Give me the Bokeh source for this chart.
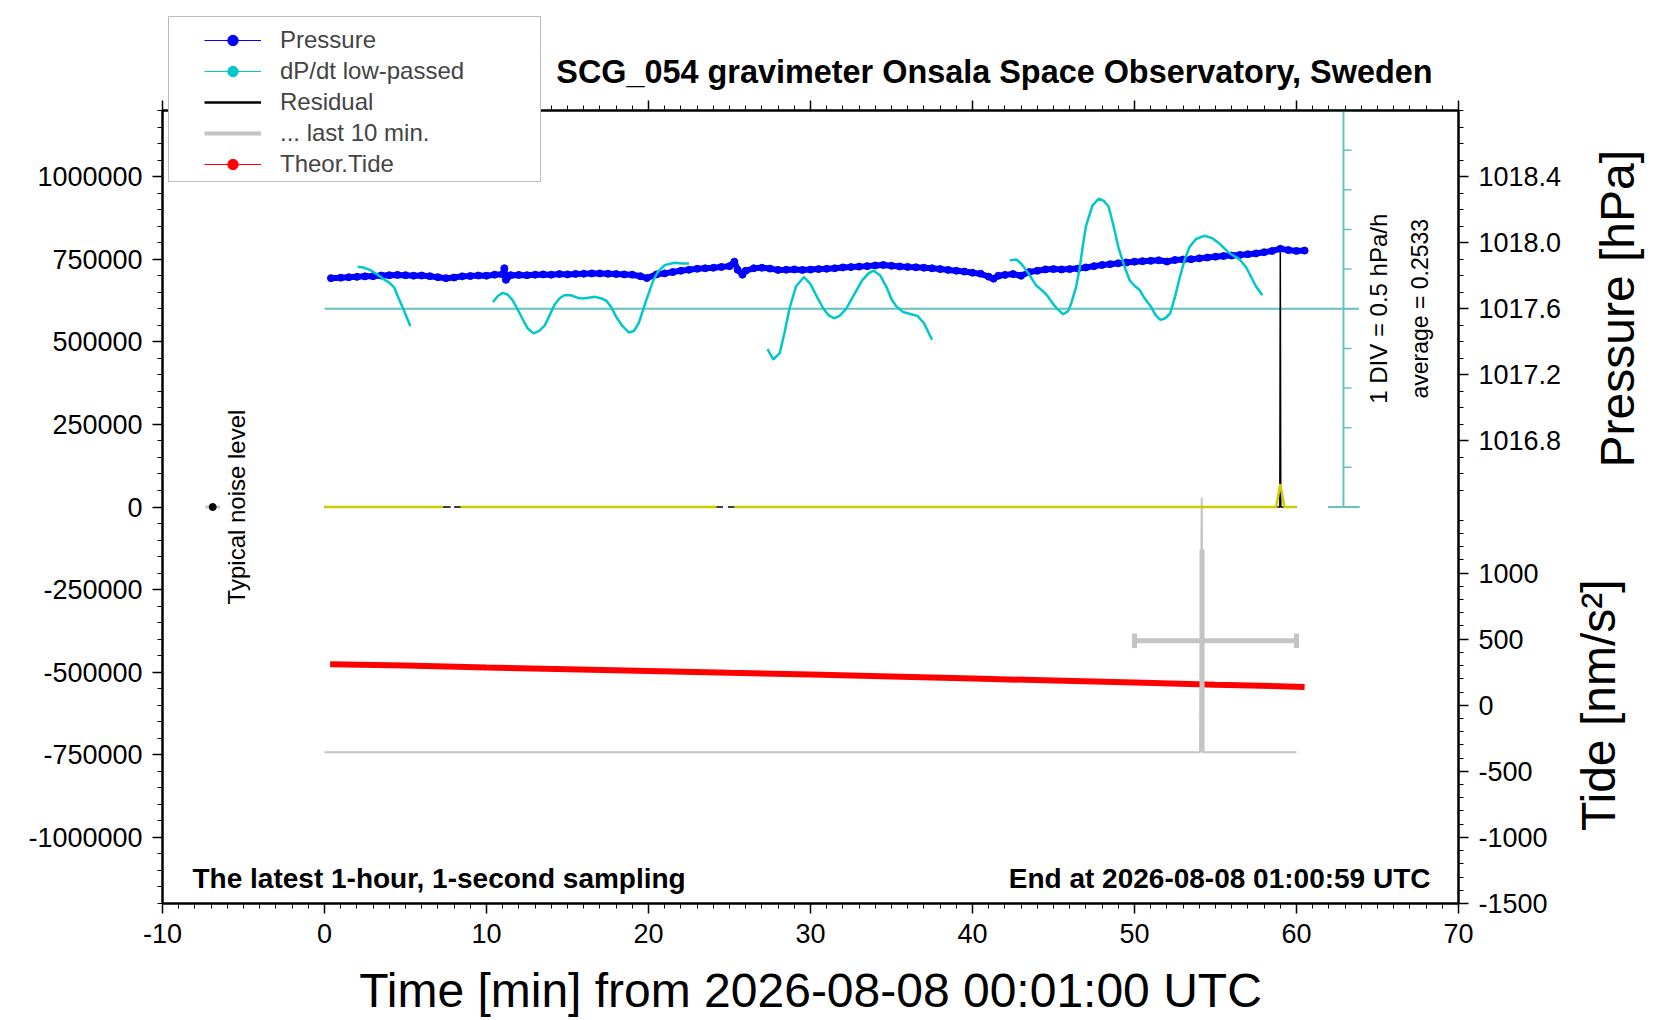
import math
from bokeh.plotting import figure
from bokeh.layouts import column
from bokeh.models import (Range1d, LinearAxis, FixedTicker, NumeralTickFormatter,
                          Legend, LegendItem, Label)
from bokeh.embed import file_html
from bokeh.resources import INLINE

FONT = "Liberation Sans"
nan = float("nan")

# --- pressure [hPa] (minutes from start)
pres_t = [0.4, 1.0, 1.5, 2.0, 2.5, 3.0, 3.5, 4.0, 4.5, 5.0,
          5.5, 6.0, 6.5, 7.0, 7.5, 8.0, 8.5, 9.0, 9.5, 10.0,
          10.5, 11.0, 11.1, 11.2, 11.5, 12.0, 12.5, 13.0, 13.5, 14.0,
          14.5, 15.0, 15.5, 16.0, 16.5, 17.0, 17.5, 18.0, 18.5, 19.0,
          19.5, 19.9, 20.5, 21.0, 21.5, 22.0, 22.5, 23.0, 23.5, 24.0,
          24.5, 25.0, 25.3, 25.5, 25.8, 26.0, 26.5, 27.0, 27.5, 28.0,
          28.5, 29.0, 29.5, 30.0, 30.5, 31.0, 31.5, 32.0, 32.5, 33.0,
          33.5, 34.0, 34.5, 35.0, 35.5, 36.0, 36.5, 37.0, 37.5, 38.0,
          38.5, 39.0, 39.5, 40.0, 40.5, 41.0, 41.3, 41.6, 42.0, 42.5,
          43.0, 43.5, 44.0, 44.5, 45.0, 45.5, 46.0, 46.5, 47.0, 47.5,
          48.0, 48.5, 49.0, 49.5, 50.0, 50.5, 51.0, 51.5, 52.0, 52.5,
          53.0, 53.5, 54.0, 54.5, 55.0, 55.5, 56.0, 56.5, 57.0, 57.5,
          58.0, 58.5, 59.0, 59.5, 60.0, 60.5]
pres_v = [1017.785, 1017.788, 1017.791, 1017.793, 1017.796, 1017.797, 1017.801, 1017.803, 1017.805, 1017.803,
          1017.800, 1017.801, 1017.797, 1017.791, 1017.785, 1017.789, 1017.796, 1017.798, 1017.801, 1017.800,
          1017.806, 1017.809, 1017.845, 1017.775, 1017.803, 1017.805, 1017.803, 1017.806, 1017.808, 1017.806,
          1017.810, 1017.808, 1017.811, 1017.812, 1017.814, 1017.814, 1017.812, 1017.810, 1017.808, 1017.806,
          1017.797, 1017.786, 1017.808, 1017.814, 1017.822, 1017.830, 1017.836, 1017.842, 1017.845, 1017.848,
          1017.853, 1017.858, 1017.885, 1017.836, 1017.806, 1017.830, 1017.845, 1017.848, 1017.843, 1017.835,
          1017.836, 1017.838, 1017.835, 1017.837, 1017.840, 1017.842, 1017.845, 1017.850, 1017.852, 1017.855,
          1017.858, 1017.862, 1017.865, 1017.860, 1017.856, 1017.853, 1017.851, 1017.848, 1017.845, 1017.840,
          1017.835, 1017.830, 1017.825, 1017.818, 1017.812, 1017.794, 1017.782, 1017.800, 1017.805, 1017.810,
          1017.800, 1017.822, 1017.830, 1017.838, 1017.840, 1017.838, 1017.840, 1017.843, 1017.850, 1017.858,
          1017.865, 1017.870, 1017.875, 1017.880, 1017.885, 1017.888, 1017.890, 1017.893, 1017.886, 1017.895,
          1017.898, 1017.900, 1017.905, 1017.910, 1017.915, 1017.919, 1017.922, 1017.926, 1017.930, 1017.935,
          1017.942, 1017.950, 1017.963, 1017.955, 1017.950, 1017.952]

# --- dP/dt low-passed [hPa/h], segments separated by gaps
dpdt_t = [2.05, 2.4, 2.8, 3.2, 3.6, 4.0, 4.3, 4.6, 4.9, 5.3, nan,
          10.4, 10.7, 11.0, 11.3, 11.6, 11.9, 12.2, 12.55, 12.9, 13.25, 13.6, 13.9, 14.2, 14.5,
          14.8, 15.2, 15.6, 15.9, 16.3, 16.7, 17.1, 17.4, 17.7, 18.0, 18.4, 18.8, 19.1, 19.4,
          19.8, 20.3, 20.6, 21.0, 21.6, 22.1, 22.5, nan,
          27.35, 27.7, 28.1, 28.4, 28.7, 29.1, 29.6, 30.0, 30.4, 30.8, 31.1, 31.45, 31.8, 32.2,
          32.7, 33.2, 33.6, 33.9, 34.3, 34.7, 35.0, 35.3, 35.7, 36.2, 36.6, 37.0, 37.5, nan,
          42.3, 42.7, 43.0, 43.3, 43.6, 43.9, 44.3, 44.6, 44.9, 45.2, 45.6, 45.9, 46.1, 46.4,
          46.6, 46.8, 47.0, 47.4, 47.8, 48.1, 48.4, 48.7, 49.0, 49.35, 49.7, 50.0, 50.3, 50.6,
          51.0, 51.3, 51.6, 51.9, 52.2, 52.5, 52.8, 53.1, 53.4, 53.8, 54.3, 54.8, 55.2, 55.8,
          56.5, 56.9, 57.2, 57.5, 57.9]
dpdt_v = [0.53, 0.52, 0.49, 0.44, 0.38, 0.33, 0.27, 0.12, -0.02, -0.22, nan,
          0.085, 0.16, 0.20, 0.18, 0.11, 0.0, -0.12, -0.25, -0.31, -0.28, -0.21, -0.08, 0.05, 0.13,
          0.17, 0.17, 0.14, 0.13, 0.14, 0.15, 0.13, 0.10, 0.02, -0.10, -0.22, -0.30, -0.28, -0.18,
          0.07, 0.36, 0.47, 0.55, 0.58, 0.57, 0.57, nan,
          -0.51, -0.64, -0.56, -0.30, 0.0, 0.28, 0.40, 0.31, 0.15, 0.0, -0.08, -0.12, -0.09, 0.0,
          0.18, 0.36, 0.45, 0.48, 0.42, 0.27, 0.12, 0.03, -0.04, -0.07, -0.09, -0.18, -0.39, nan,
          0.61, 0.62, 0.57, 0.49, 0.40, 0.30, 0.23, 0.17, 0.08, 0.005, -0.07, -0.03, 0.07, 0.28,
          0.49, 0.78, 1.04, 1.30, 1.39, 1.36, 1.29, 1.05, 0.78, 0.55, 0.36, 0.29, 0.24, 0.14,
          0.03, -0.08, -0.14, -0.12, -0.06, 0.15, 0.40, 0.62, 0.78, 0.88, 0.92, 0.89, 0.83, 0.71,
          0.62, 0.52, 0.40, 0.28, 0.17]
dpdt_zero_t = [0.0, 63.85]
div_x = 62.9
div_ticks = [-2.0, -1.5, -1.0, -0.5, 0.0, 0.5, 1.0, 1.5, 2.0]
div_ends = [-2.5, 2.5]
div_cap_t = [61.95, 63.9]

# --- residual [nm/s^2] (black) and filtered residual (yellow)
res_t = [0.0, 7.79, nan, 8.0, 24.6, nan, 24.9, 58.97, 59.0, 59.03, 60.0]
res_v = [0, 0, nan, 0, 0, nan, 0, 0, 770000, 0, 0]
filt_t = [0.0, 7.32, nan, 8.4, 24.2, nan, 25.3, 58.75, 59.0, 59.25, 60.0]
filt_v = [0, 0, nan, 0, 0, nan, 0, 0, 70000, 0, 0]

# --- last 10 minutes (gray)
last_t = [0.0, 54.05, 54.15, 54.22, 60.0]
last_v = [-742000, -742000, 28000, -742000, -742000]
last_span = [50.0, 60.0]
last_mid = 54.17
last_mean = -405000
last_range = [-128000, -742000]
last_cap = 22000

# --- theoretical tide [nm/s^2]
tide_t = [0.35, 5, 10, 15, 20, 25, 30, 35, 40, 45, 50, 55, 60.5]
tide_v = [310, 300, 286, 273, 260, 245, 232, 217, 202, 187, 172, 155, 139]

# --- typical noise level marker
noise_t = [-6.9]
noise_v = [0]
noise_bar = [-7.35, -6.45]

# --- axes
x_major = [-10, 0, 10, 20, 30, 40, 50, 60, 70]
x_minor = list(range(-10, 71))
left_major = [-1000000, -750000, -500000, -250000, 0, 250000, 500000, 750000, 1000000]
left_minor = list(range(-1200000, 1200001, 50000))
pres_major = [1016.8, 1017.2, 1017.6, 1018.0, 1018.4]
pres_minor = [round(1016.5 + 0.1 * i, 1) for i in range(24)]
tide_major = [-1500, -1000, -500, 0, 500, 1000]
tide_minor = list(range(-1500, 1401, 100))

X_LO, X_HI = -10, 70
Y_LO, Y_HI = -1200000, 1200000
PRES_LO, PRES_HI = 1014.0, 1018.8
TIDE_LO, TIDE_HI = -1500, 4500
DPDT_LO, DPDT_HI = -7.5, 2.5

# page geometry (px)
W, H = 1650, 1018
FRAME_L, FRAME_R, FRAME_T, FRAME_B = 162, 1458, 110, 903


def p2t(v):
    # pressure value -> position on the shared right-hand (tide) scale
    return round(TIDE_LO + (v - PRES_LO) / (PRES_HI - PRES_LO) * (TIDE_HI - TIDE_LO), 6)


def at_x(px):
    # horizontal pixel -> minutes
    return X_LO + (px - FRAME_L) * (X_HI - X_LO) / (FRAME_R - FRAME_L)


def at_y(py, lo=Y_LO, hi=Y_HI):
    # vertical pixel -> value on a range that fills the frame
    return hi - (py - FRAME_T) * (hi - lo) / (FRAME_B - FRAME_T)


def full_height(lo, hi):
    # the same vertical scale as the frame, stretched over the whole canvas
    return Range1d(at_y(H, lo, hi), at_y(0, lo, hi))


BLUE = "#0000ff"
CYAN = "#00c8c8"
TEAL = "#66c0c0"
RED = "#ff0000"
GRAY = "#c4c4c4"
YELLOW = "#cccc00"

p = figure(width=W, height=H, output_backend="svg", toolbar_location=None,
           x_range=Range1d(X_LO, X_HI), y_range=Range1d(Y_LO, Y_HI),
           min_border_left=FRAME_L, min_border_right=W - FRAME_R,
           min_border_top=FRAME_T, min_border_bottom=H - FRAME_B)
p.extra_y_ranges = {"pressure": Range1d(PRES_LO, PRES_HI),
                    "tide": Range1d(TIDE_LO, TIDE_HI),
                    "dpdt": Range1d(DPDT_LO, DPDT_HI)}
p.xgrid.visible = False
p.ygrid.visible = False
p.outline_line_color = "black"
p.outline_line_width = 2
p.background_fill_color = "white"
p.border_fill_color = "white"

# axes
bottom = p.below[0]
bottom.ticker = FixedTicker(ticks=x_major, minor_ticks=x_minor)
bottom.formatter = NumeralTickFormatter(format="0")
left = p.left[0]
left.ticker = FixedTicker(ticks=left_major, minor_ticks=left_minor)
left.formatter = NumeralTickFormatter(format="0")

top = LinearAxis(ticker=FixedTicker(ticks=x_major, minor_ticks=x_minor),
                 major_label_overrides={v: "" for v in x_major})
p.add_layout(top, "above")

right_major = tide_major + [p2t(v) for v in pres_major]
right_minor = tide_minor + [p2t(v) for v in pres_minor]
right_labels = {v: str(v) for v in tide_major}
right_labels.update({p2t(v): "%.1f" % v for v in pres_major})
right = LinearAxis(y_range_name="tide", ticker=FixedTicker(ticks=right_major, minor_ticks=right_minor),
                   major_label_overrides=right_labels)
p.add_layout(right, "right")

for ax in [bottom, left, top, right]:
    ax.axis_line_width = 2
    ax.axis_line_color = "black"
    ax.major_tick_line_width = 1.5
    ax.minor_tick_line_width = 1
    ax.major_tick_in = 0
    ax.major_tick_out = 10
    ax.minor_tick_in = 0
    ax.minor_tick_out = 5
    ax.major_label_text_font = FONT
    ax.major_label_text_font_size = "27px"
    ax.major_label_text_color = "black"
    ax.major_label_standoff = 10

# data
p.line(dpdt_zero_t, [0, 0], y_range_name="dpdt", line_color=TEAL, line_width=2)
p.segment(x0=[div_x], y0=[div_ends[0]], x1=[div_x], y1=[div_ends[1]], y_range_name="dpdt",
          line_color=TEAL, line_width=2)
p.segment(x0=[div_x] * len(div_ticks), y0=div_ticks, x1=[div_x + 0.5] * len(div_ticks), y1=div_ticks,
          y_range_name="dpdt", line_color=TEAL, line_width=1.5)
p.segment(x0=[div_cap_t[0]] * 2, y0=div_ends, x1=[div_cap_t[1]] * 2, y1=div_ends,
          y_range_name="dpdt", line_color=TEAL, line_width=2)

p.line(last_t, last_v, line_color=GRAY, line_width=2)

p.line(res_t, res_v, line_color="black", line_width=1.5)
p.line(filt_t, filt_v, line_color=YELLOW, line_width=2.5)

p.line(pres_t, pres_v, y_range_name="pressure", line_color=BLUE, line_width=6)
p.scatter(pres_t, pres_v, y_range_name="pressure", size=7, color=BLUE)
p.line(dpdt_t, dpdt_v, y_range_name="dpdt", line_color=CYAN, line_width=2.5)
p.line(tide_t, tide_v, y_range_name="tide", line_color=RED, line_width=6)

p.segment(x0=[last_span[0], last_mid, last_span[0], last_span[1]],
          y0=[last_mean, last_range[0], last_mean - last_cap, last_mean - last_cap],
          x1=[last_span[1], last_mid, last_span[0], last_span[1]],
          y1=[last_mean, last_range[1], last_mean + last_cap, last_mean + last_cap],
          line_color=GRAY, line_width=5)

p.segment(x0=[noise_bar[0]], y0=noise_v, x1=[noise_bar[1]], y1=noise_v, line_color=GRAY, line_width=3)
p.scatter(noise_t, noise_v, size=7, color="black")


def add_label(fig, place="center", **kw):
    kw.setdefault("text_font", FONT)
    kw.setdefault("text_color", "black")
    kw.setdefault("text_baseline", "middle")
    fig.add_layout(Label(**kw), place)


# texts inside the frame
add_label(p, x=at_x(192), y=at_y(878), text="The latest 1-hour, 1-second sampling",
          text_align="left", text_font_style="bold", text_font_size="28px")
add_label(p, x=at_x(1430), y=at_y(878), text="End at 2026-08-08 01:00:59 UTC",
          text_align="right", text_font_style="bold", text_font_size="28px")
add_label(p, x=at_x(1378), y=0, y_range_name="dpdt", text="1 DIV = 0.5 hPa/h", angle=math.pi / 2,
          text_align="center", text_font_size="24px")
add_label(p, x=at_x(1419), y=0, y_range_name="dpdt", text="average = 0.2533", angle=math.pi / 2,
          text_align="center", text_font_size="23px")
add_label(p, x=at_x(236), y=0, text="Typical noise level", angle=math.pi / 2,
          text_align="center", text_font_size="24px")

# transparent layer on top of the plot: title, outer axis titles and legend
ov = figure(width=W, height=H, output_backend="svg", toolbar_location=None, title_location=None,
            x_axis_location=None, y_axis_location=None,
            min_border_left=FRAME_L, min_border_right=W - FRAME_R, min_border_top=0, min_border_bottom=0,
            x_range=Range1d(X_LO, X_HI), y_range=full_height(Y_LO, Y_HI),
            border_fill_color=None, background_fill_color=None, outline_line_color=None,
            margin=(-H, 0, 0, 0))
ov.xgrid.visible = False
ov.ygrid.visible = False
ov.extra_y_ranges = {"pressure": full_height(PRES_LO, PRES_HI),
                     "tide": full_height(TIDE_LO, TIDE_HI),
                     "hidden": Range1d(1e12, 2e12)}

add_label(ov, x=at_x(1432), y=at_y(71), text="SCG_054 gravimeter Onsala Space Observatory, Sweden",
          text_align="right", text_font_style="bold", text_font_size="32.4px")
add_label(ov, x=30, y=at_y(990), text="Time [min] from 2026-08-08 00:01:00 UTC",
          text_align="center", text_font_size="48px")
add_label(ov, "right", x=at_x(1617), y=1017.6, y_range_name="pressure", text="Pressure [hPa]",
          angle=math.pi / 2, text_align="center", text_font_size="48px")
add_label(ov, "right", x=at_x(1598), y=0, y_range_name="tide", text="Tide [nm/s²]",
          angle=math.pi / 2, text_align="center", text_font_size="48px")

# legend glyphs: the same series, on a range that keeps them out of view
lg_p_line = ov.line(pres_t, pres_v, y_range_name="hidden", line_color=BLUE, line_width=1)
lg_p_dot = ov.scatter(pres_t, pres_v, y_range_name="hidden", color=BLUE)
lg_d_line = ov.line(dpdt_t, dpdt_v, y_range_name="hidden", line_color=CYAN, line_width=1)
lg_d_dot = ov.scatter(dpdt_t, dpdt_v, y_range_name="hidden", color=CYAN)
lg_res = ov.line(res_t, res_v, y_range_name="hidden", line_color="black", line_width=2.5)
lg_last = ov.line(last_t, last_v, y_range_name="hidden", line_color=GRAY, line_width=4)
lg_t_line = ov.line(tide_t, tide_v, y_range_name="hidden", line_color=RED, line_width=1)
lg_t_dot = ov.scatter(tide_t, tide_v, y_range_name="hidden", color=RED)
lg_box = ov.line(tide_t, tide_v, y_range_name="hidden", line_alpha=0)

# legend location is measured from the frame's bottom-left corner
box_legend = Legend(items=[LegendItem(label=" ", renderers=[lg_box])], location=(168 - FRAME_L, H - 182),
                    padding=0, margin=0, glyph_width=1, glyph_height=164, label_height=164,
                    label_width=370, label_standoff=0, border_line_color="#7a7a7a",
                    border_line_width=1, background_fill_color="white", background_fill_alpha=1)
ov.add_layout(box_legend, "center")

items_legend = Legend(items=[
    LegendItem(label="Pressure", renderers=[lg_p_line, lg_p_dot]),
    LegendItem(label="dP/dt low-passed", renderers=[lg_d_line, lg_d_dot]),
    LegendItem(label="Residual", renderers=[lg_res]),
    LegendItem(label="... last 10 min.", renderers=[lg_last]),
    LegendItem(label="Theor.Tide", renderers=[lg_t_line, lg_t_dot]),
], location=(204 - FRAME_L, H - 178), padding=0, margin=0, spacing=3, glyph_width=57, glyph_height=26,
    label_height=28, label_standoff=19, label_text_font=FONT, label_text_font_size="24px",
    border_line_alpha=0, background_fill_alpha=0)
ov.add_layout(items_legend, "center")

page = column(p, ov, spacing=0)
open("out.html", "w").write(file_html(page, INLINE))
